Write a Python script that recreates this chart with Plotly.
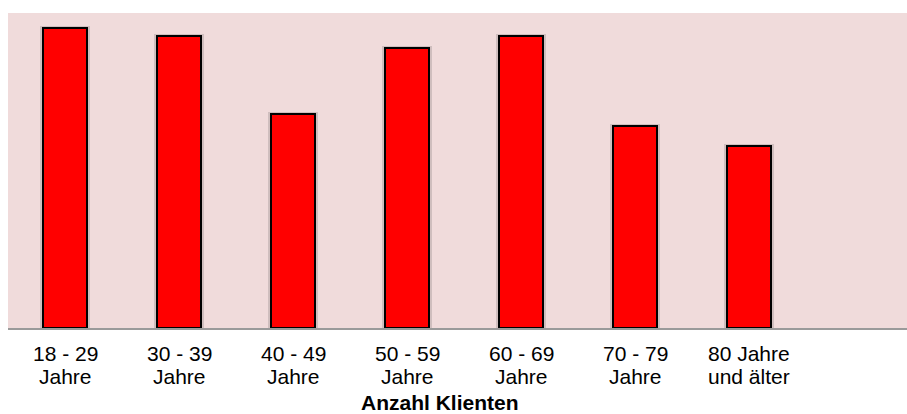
import plotly.graph_objects as go

# Age groups (two label lines each) and number of clients per group
age_line1 = ["18 - 29", "30 - 39", "40 - 49", "50 - 59", "60 - 69", "70 - 79", "80 Jahre"]
age_line2 = ["Jahre", "Jahre", "Jahre", "Jahre", "Jahre", "Jahre", "und älter"]
clients = [150, 146, 107, 140, 146, 101, 91]

x_title = "Anzahl Klienten"

positions = list(range(len(clients)))

W, H = 907, 414
M_L, M_R, M_T, M_B = 8, 0, 13, 86
plot_w = W - M_L - M_R
slot_px = 114  # horizontal spacing between category centres
x_range = [-0.5, -0.5 + plot_w / slot_px]
y_max = 157.5
px_per_unit = (H - M_T - M_B) / y_max

bar_w = 0.39
font_family = "Liberation Sans, Arial, sans-serif"

fig = go.Figure()

# soft halo behind each bar
fig.add_trace(go.Bar(
    x=positions,
    y=[v + 2.0 / px_per_unit for v in clients],
    width=bar_w + 5 / slot_px,
    marker=dict(color="rgba(60,60,60,0.18)", line=dict(width=0)),
    hoverinfo="skip",
    showlegend=False,
))

fig.add_trace(go.Bar(
    x=positions,
    y=clients,
    width=bar_w,
    marker=dict(color="#FF0000", line=dict(color="#000000", width=2)),
    showlegend=False,
))

annotations = []
for xi, l1, l2 in zip(positions, age_line1, age_line2):
    annotations.append(dict(
        x=xi, y=0, xref="x", yref="paper", text=l1, showarrow=False,
        xanchor="center", yanchor="middle", yshift=-25,
        font=dict(family=font_family, size=21, color="#000000"),
    ))
    annotations.append(dict(
        x=xi, y=0, xref="x", yref="paper", text=l2, showarrow=False,
        xanchor="center", yanchor="middle", yshift=-48,
        font=dict(family=font_family, size=21, color="#000000"),
    ))

annotations.append(dict(
    x=(440 - M_L) / plot_w, y=0, xref="paper", yref="paper", text="<b>" + x_title + "</b>",
    showarrow=False, xanchor="center", yanchor="middle", yshift=-74,
    font=dict(family=font_family, size=21, color="#000000"),
))

fig.update_layout(
    width=W, height=H,
    margin=dict(l=M_L, r=M_R, t=M_T, b=M_B, pad=0),
    paper_bgcolor="#FFFFFF",
    plot_bgcolor="#F0DBDB",
    barmode="overlay",
    bargap=0,
    annotations=annotations,
    xaxis=dict(
        range=x_range, showgrid=False, zeroline=False,
        showline=True, linecolor="#9A9A9A", linewidth=2,
        showticklabels=False, ticks="", fixedrange=True,
    ),
    yaxis=dict(
        range=[0, y_max], showgrid=False, zeroline=False,
        showline=False, showticklabels=False, ticks="", fixedrange=True,
    ),
)

fig.write_html("out.html")
